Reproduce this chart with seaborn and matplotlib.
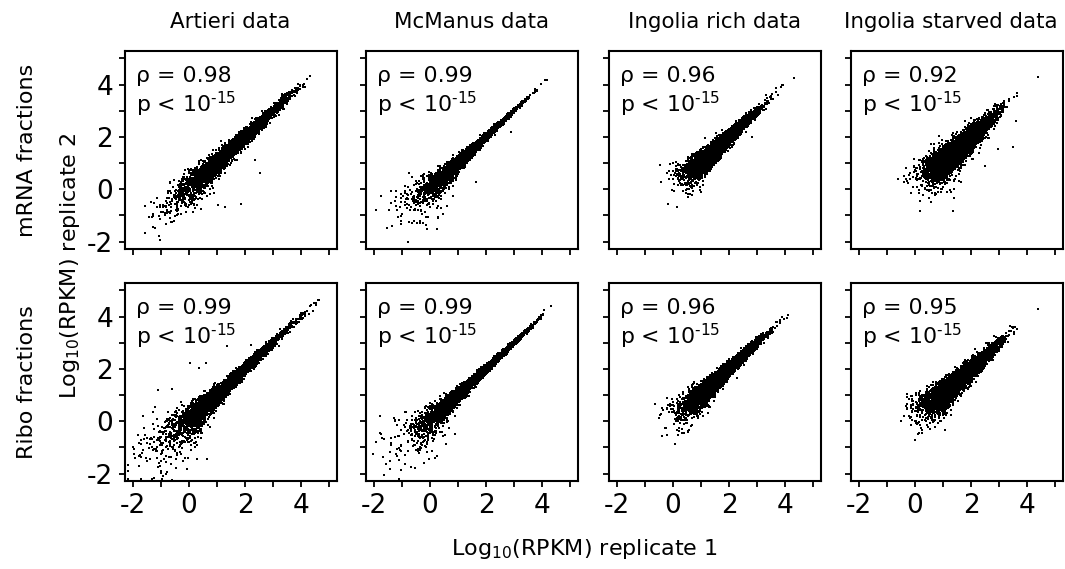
import numpy as np
import pandas as pd
import matplotlib
matplotlib.use("Agg")
import matplotlib.pyplot as plt
import seaborn as sns

# ---- panel labels and statistics -------------------------------------------
datasets = ["Artieri data", "McManus data", "Ingolia rich data", "Ingolia starved data"]
fractions = ["mRNA fractions", "Ribo fractions"]
rho = [[0.98, 0.99, 0.96, 0.92],
       [0.99, 0.99, 0.96, 0.95]]
tick_major = [-2, 0, 2, 4]
tick_minor = [-1, 1, 3, 5]

# ---- gene clouds (log10 RPKM) ------------------------------------------------
# rows: mRNA, Ribo; columns: Artieri, McManus, Ingolia rich, Ingolia starved
n_genes      = [[5000, 5000, 5500, 5500], [5000, 5000, 5500, 5500]]
cloud_centre = [[1.50, 1.40, 1.70, 1.55], [1.30, 1.45, 1.75, 1.60]]
cloud_spread = [[0.85, 0.80, 0.60, 0.55], [1.00, 0.90, 0.65, 0.60]]
cloud_low    = [[-1.6, -1.1, 0.3, 0.3], [-2.2, -1.6, 0.1, 0.2]]
cloud_high   = [[4.4, 4.3, 4.3, 4.4], [4.8, 4.4, 4.3, 4.4]]
noise_extra  = [[0.20, 0.24, 0.30, 0.30], [0.20, 0.20, 0.28, 0.28]]
noise_floor  = [[0.08, 0.025, 0.06, 0.12], [0.06, 0.035, 0.06, 0.09]]
noise_cap    = [[0.0, -0.5, -0.3, -0.3], [-0.8, -0.8, -0.3, -0.3]]
# log10 read-depth factor for count-limited libraries (None: deep library)
count_depth  = [[None, None, 0.40, 0.40], [None, None, 0.45, 0.30]]

# isolated genes away from the main cloud: (replicate 1, replicate 2)
outliers = [
    [[(2.52, 0.62), (1.84, -0.56), (1.27, -0.67), (1.02, -0.60), (2.36, 1.12),
      (-1.03, -1.93), (-1.55, -1.67)],
     [(-1.03, -0.33), (-1.03, -1.02), (-1.03, -1.32), (-0.63, -1.28), (-0.45, -1.30),
      (-0.35, -1.30), (-0.25, -1.30), (1.63, 0.28), (2.88, 2.19)],
     [(-0.18, -0.56), (0.15, -0.69), (2.81, 1.98), (4.30, 4.25)],
     [(0.17, -0.81), (1.34, -0.81), (2.49, 0.89), (2.97, 1.52), (3.50, 1.60),
      (3.60, 2.60), (4.38, 4.30), (0.17, -0.45)]],
    [[(-2.17, -1.90), (-2.17, -2.20), (-1.71, -2.20), (-1.31, -2.19), (-0.95, -2.20),
      (-1.11, 1.20), (-0.60, 1.25), (0.05, 2.23), (0.37, 2.04), (0.62, 2.23),
      (4.60, 4.63), (4.34, 4.44), (4.45, 4.50), (1.34, 2.88), (2.20, 2.90)],
     [(0.91, -0.50), (-1.43, -1.83)],
     [(-0.38, -0.56), (0.07, -0.86), (0.74, 1.50)],
     [(0.00, -0.71), (4.40, 4.30)]],
]

rng = np.random.default_rng(11)


def replicate_pair(r, c):
    """Two replicate measurements of the same genes."""
    lo, hi = cloud_low[r][c], cloud_high[r][c]
    t = rng.normal(cloud_centre[r][c], cloud_spread[r][c], n_genes[r][c] * 3)
    t = t[(t >= lo) & (t <= hi)][: n_genes[r][c]]
    sd = noise_floor[r][c] + noise_extra[r][c] * 10 ** (-np.maximum(t, noise_cap[r][c]) / 2)
    x = t + rng.normal(0, sd)
    y = t + rng.normal(0, sd)
    depth = count_depth[r][c]
    if depth is not None:
        d = rng.normal(depth, 0.15, t.size)
        cx = rng.poisson(10 ** (x + d))
        cy = rng.poisson(10 ** (y + d))
        keep = (cx > 0) & (cy > 0)
        x = np.log10(cx[keep]) - d[keep]
        y = np.log10(cy[keep]) - d[keep]
    ox, oy = zip(*outliers[r][c])
    x = np.concatenate([x, ox])
    y = np.concatenate([y, oy])
    return pd.DataFrame({"rep1": x, "rep2": y})


# ---- figure ------------------------------------------------------------------
sns.set_style("ticks")
plt.rcParams["font.family"] = ["DejaVu Sans"]
plt.rcParams["mathtext.fontset"] = "dejavusans"
plt.rcParams["axes.unicode_minus"] = False
plt.rcParams["text.color"] = "black"
plt.rcParams["xtick.color"] = "black"
plt.rcParams["ytick.color"] = "black"

W, H = 1065, 569
fig = plt.figure(figsize=(W / 100, H / 100), dpi=100)
col_left = [125, 366, 609, 851]
col_w = 212
row_top = [51, 283]
row_h = 198
lim = (-2.28, 5.28)
fs_label = 16
fs_title = 15.4
fs_tick = 19
fs_stat = 15.8
title_x = [230, 472, 715, 951]

for r in range(2):
    for c in range(4):
        ax = fig.add_axes([col_left[c] / W, 1 - (row_top[r] + row_h) / H,
                           col_w / W, row_h / H])
        df = replicate_pair(r, c)
        sns.scatterplot(data=df, x="rep1", y="rep2", ax=ax, s=1.3, marker="s",
                        color="black", linewidth=0, legend=False)
        ax.set_xlim(lim)
        ax.set_ylim(lim)
        ax.set_xticks(tick_major)
        ax.set_xticks(tick_minor, minor=True)
        ax.set_yticks(tick_major)
        ax.set_yticks(tick_minor, minor=True)
        ax.tick_params(which="both", direction="out", length=4.5, width=1.3,
                       color="black", labelsize=fs_tick, labelcolor="black")
        ax.tick_params(axis="x", pad=4)
        ax.tick_params(axis="y", pad=4)
        for sp in ax.spines.values():
            sp.set_linewidth(1.5)
            sp.set_color("black")
        if r == 0:
            ax.tick_params(labelbottom=False)
        if c > 0:
            ax.tick_params(labelleft=False)
        ax.set_xlabel("")
        ax.set_ylabel("")
        ax.text(0.052, 0.874, f"ρ = {rho[r][c]:.2f}", transform=ax.transAxes,
                fontsize=fs_stat, va="center", ha="left", color="black")
        ax.text(0.052, 0.732, r"p < 10$^{\text{-15}}$", transform=ax.transAxes,
                fontsize=fs_stat, va="center", ha="left", color="black")

for c, name in enumerate(datasets):
    fig.text(title_x[c] / W, 1 - 22 / H, name,
             fontsize=fs_title, ha="center", va="center")

for r, name in enumerate(fractions):
    fig.text(27 / W, 1 - (row_top[r] + row_h / 2) / H, name, rotation=90,
             fontsize=fs_label, ha="center", va="center")

fig.text(70 / W, 1 - 266 / H, r"Log$_{10}$(RPKM) replicate 2", rotation=90,
         fontsize=fs_label, ha="center", va="center")
fig.text(584 / W, 1 - 549 / H, r"Log$_{10}$(RPKM) replicate 1",
         fontsize=fs_label, ha="center", va="center")

fig.savefig("out.png", dpi=100)
